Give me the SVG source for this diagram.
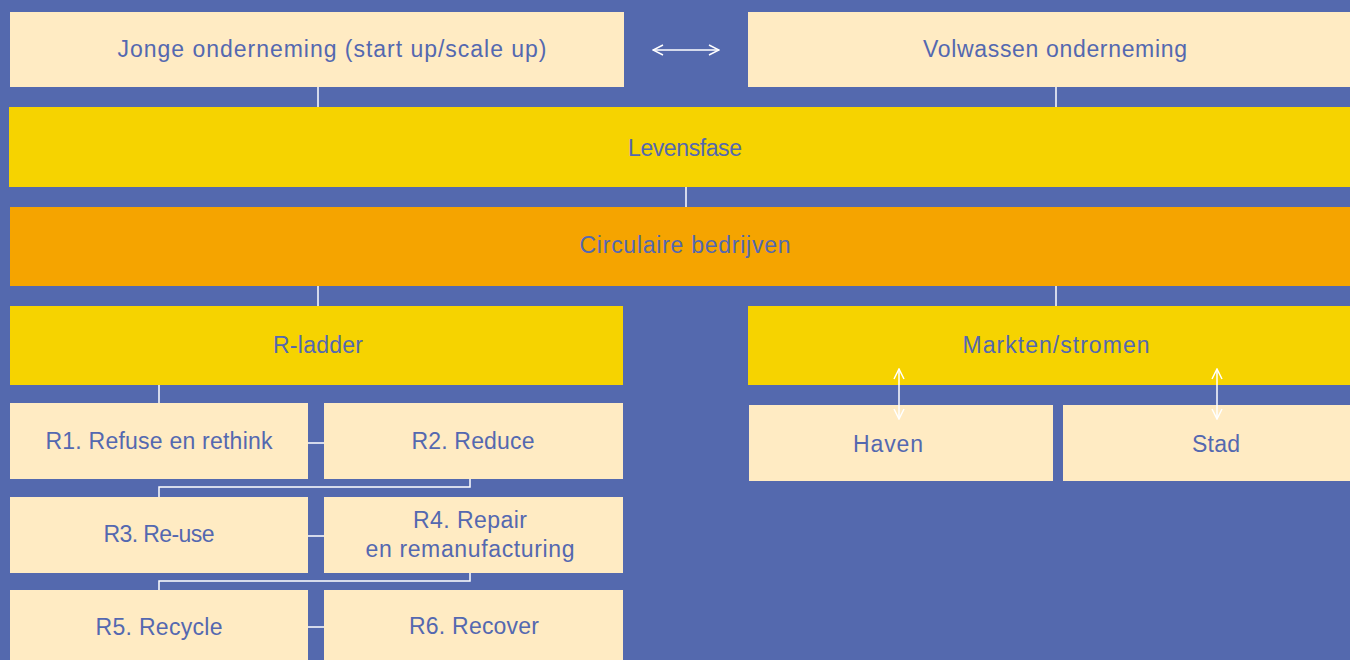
<svg xmlns="http://www.w3.org/2000/svg" width="1350" height="660" viewBox="0 0 1350 660">
<style>
.cream{fill:#FFEBC3}
.yellow{fill:#F6D300}
.orange{fill:#F5A400}
text{font-family:"Liberation Sans",Arial,sans-serif;font-size:23px;fill:#5468B0;text-anchor:middle}
.ln{stroke:#FFFFFF;stroke-width:1.5;fill:none}
</style>
<defs>
<marker id="ah" viewBox="0 0 12 12" refX="11" refY="6" markerWidth="12" markerHeight="12" markerUnits="userSpaceOnUse" orient="auto-start-reverse">
<path d="M1,1 L11,6 L1,11" fill="none" stroke="#FFFFFF" stroke-width="1.5"/>
</marker>
</defs>
<rect width="1350" height="660" fill="#5469AE"/>
<g id="jonge"><rect class="cream" x="10" y="12" width="614" height="75"/><text x="332" y="57" textLength="429" lengthAdjust="spacing">Jonge onderneming (start up/scale up)</text></g>
<g id="volwassen"><rect class="cream" x="748" y="12" width="602" height="75"/><text x="1055" y="57" textLength="264" lengthAdjust="spacing">Volwassen onderneming</text></g>
<g id="levensfase"><rect class="yellow" x="9" y="107" width="1341" height="80"/><text x="685" y="156" textLength="114" lengthAdjust="spacing">Levensfase</text></g>
<g id="circulaire"><rect class="orange" x="10" y="207" width="1340" height="79"/><text x="685" y="253" textLength="211" lengthAdjust="spacing">Circulaire bedrijven</text></g>
<g id="rladder"><rect class="yellow" x="10" y="306" width="613" height="79"/><text x="318" y="353" textLength="90" lengthAdjust="spacing">R-ladder</text></g>
<g id="markten"><rect class="yellow" x="748" y="306" width="602" height="79"/><text x="1056" y="353" textLength="187" lengthAdjust="spacing">Markten/stromen</text></g>
<g id="r1"><rect class="cream" x="10" y="403" width="298" height="76"/><text x="159" y="449" textLength="227" lengthAdjust="spacing">R1. Refuse en rethink</text></g>
<g id="r2"><rect class="cream" x="324" y="403" width="299" height="76"/><text x="473" y="449" textLength="123" lengthAdjust="spacing">R2. Reduce</text></g>
<g id="r3"><rect class="cream" x="10" y="497" width="298" height="76"/><text x="159" y="542" textLength="111" lengthAdjust="spacing">R3. Re-use</text></g>
<g id="r4"><rect class="cream" x="324" y="497" width="299" height="76"/><text x="470" y="528" textLength="114" lengthAdjust="spacing">R4. Repair</text><text x="470" y="557" textLength="209" lengthAdjust="spacing">en remanufacturing</text></g>
<g id="r5"><rect class="cream" x="10" y="590" width="298" height="70"/><text x="159" y="635" textLength="127" lengthAdjust="spacing">R5. Recycle</text></g>
<g id="r6"><rect class="cream" x="324" y="590" width="299" height="70"/><text x="474" y="634" textLength="130" lengthAdjust="spacing">R6. Recover</text></g>
<g id="haven"><rect class="cream" x="749" y="405" width="304" height="76"/><text x="888" y="452" textLength="70" lengthAdjust="spacing">Haven</text></g>
<g id="stad"><rect class="cream" x="1063" y="405" width="287" height="76"/><text x="1216" y="452" textLength="48" lengthAdjust="spacing">Stad</text></g>
<g id="connectors">
<line class="ln" x1="318" y1="87" x2="318" y2="107"/>
<line class="ln" x1="1056" y1="87" x2="1056" y2="107"/>
<line class="ln" x1="686" y1="187" x2="686" y2="207"/>
<line class="ln" x1="318" y1="286" x2="318" y2="306"/>
<line class="ln" x1="1056" y1="286" x2="1056" y2="306"/>
<line class="ln" x1="159" y1="385" x2="159" y2="403"/>
<line class="ln" x1="308" y1="443" x2="324" y2="443"/>
<polyline class="ln" points="470,479 470,487 159,487 159,497"/>
<line class="ln" x1="308" y1="536" x2="324" y2="536"/>
<polyline class="ln" points="470,573 470,581 159,581 159,590"/>
<line class="ln" x1="308" y1="627" x2="324" y2="627"/>
<line class="ln" x1="653" y1="50" x2="719" y2="50" marker-start="url(#ah)" marker-end="url(#ah)"/>
<line class="ln" x1="899" y1="369" x2="899" y2="419" marker-start="url(#ah)" marker-end="url(#ah)"/>
<line class="ln" x1="1217" y1="369" x2="1217" y2="419" marker-start="url(#ah)" marker-end="url(#ah)"/>
</g>
</svg>
